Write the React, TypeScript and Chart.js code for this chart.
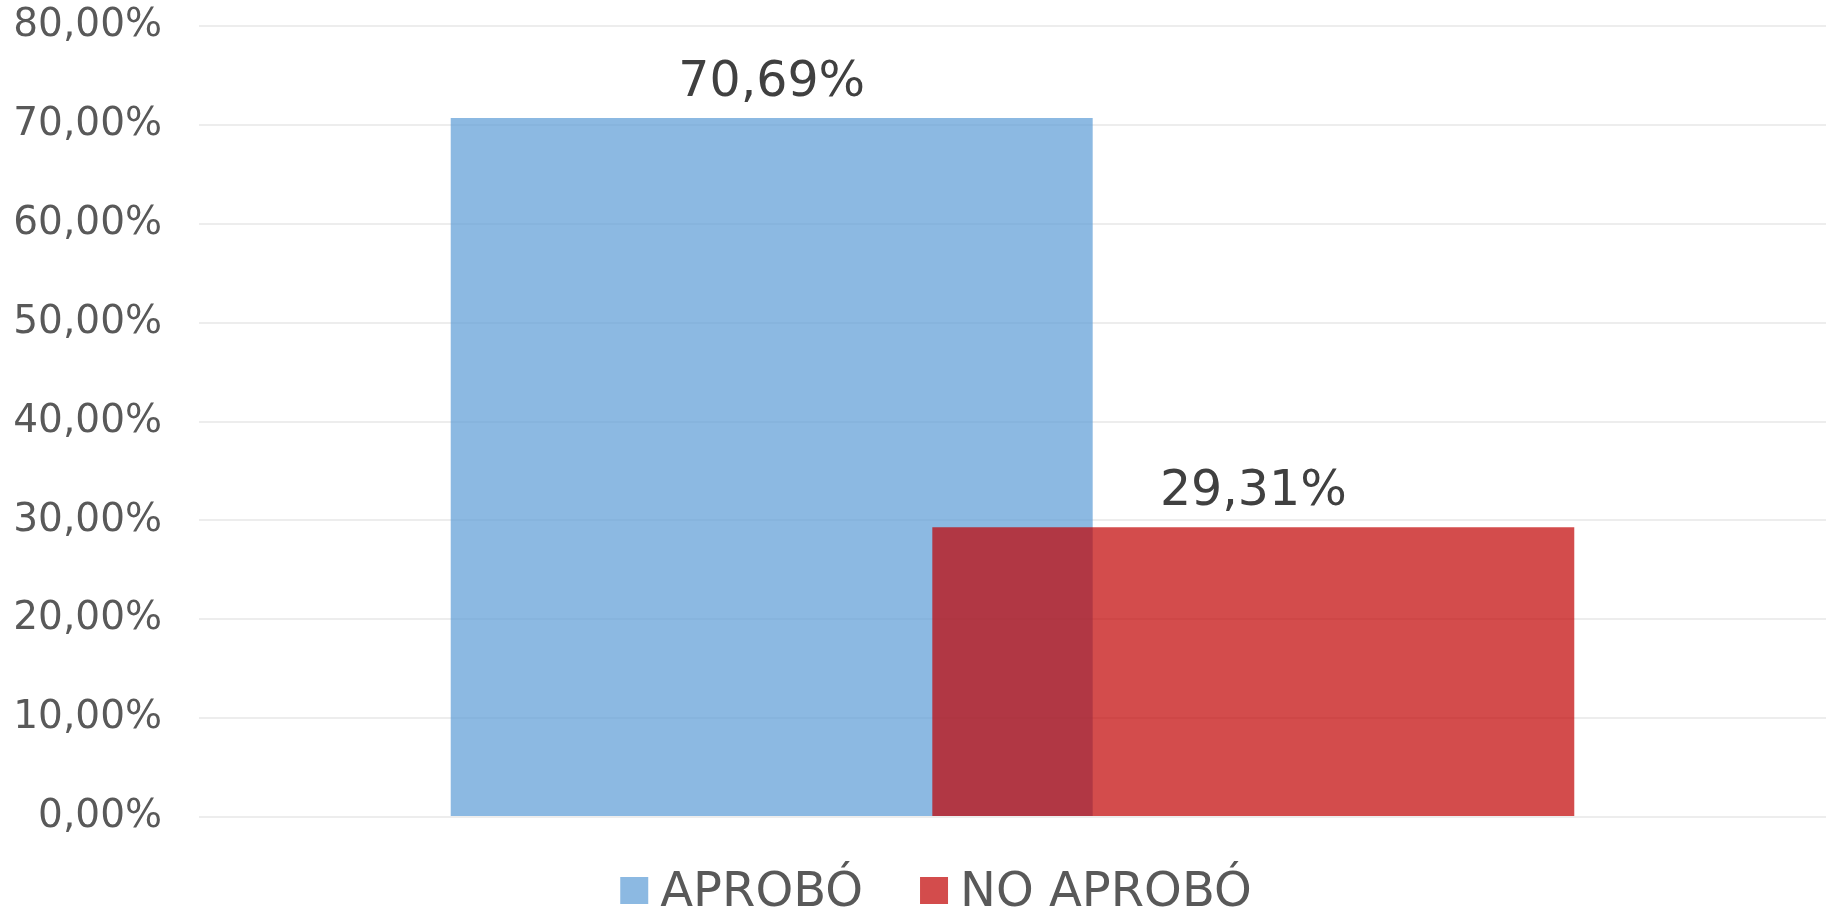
import React, { useEffect, useRef } from 'react';
import { Chart, registerables } from 'chart.js';

Chart.register(...registerables);

const categories = [''];
const seriesNames = ['APROBÓ', 'NO APROBÓ'];
const aprobo = [70.69];
const noAprobo = [29.31];
const yMin = 0;
const yMax = 80;
const yStep = 10;
const seriesColors = ['rgba(91,155,213,0.7)', 'rgba(192,0,0,0.7)'];

const FONT = '"DejaVu Sans", Verdana, sans-serif';

const fmt = (v: number) => v.toFixed(2).replace('.', ',') + '%';

// Draw the first series underneath so the second overlaps it (as in the reference).
const drawOrderPlugin = {
  id: 'drawOrder',
  beforeDatasetsDraw(chart: any) {
    const meta = chart.getDatasetMeta(0);
    if (meta && meta.controller) meta.controller.draw();
  },
  beforeDatasetDraw(_chart: any, args: any) {
    if (args.index === 0) return false;
    return true;
  },
};

const dataLabelPlugin = {
  id: 'dataLabels',
  afterDatasetsDraw(chart: any) {
    const ctx = chart.ctx;
    ctx.save();
    ctx.font = `49px ${FONT}`;
    ctx.fillStyle = '#404040';
    ctx.textAlign = 'center';
    ctx.textBaseline = 'alphabetic';
    chart.data.datasets.forEach((ds: any, i: number) => {
      const meta = chart.getDatasetMeta(i);
      meta.data.forEach((el: any, j: number) => {
        ctx.fillText(fmt(ds.data[j]), el.x, el.y - 22);
      });
    });
    ctx.restore();
  },
};

const legendPlugin = {
  id: 'customLegend',
  afterDraw(chart: any) {
    const ctx = chart.ctx;
    ctx.save();
    ctx.font = `48px ${FONT}`;
    const boxW = 28;
    const boxH = 27;
    const gap = 12;
    const itemGap = 57;
    const items = chart.data.datasets.map((ds: any) => ({
      text: ds.label,
      color: ds.backgroundColor,
      w: ctx.measureText(ds.label).width,
    }));
    const total =
      items.reduce((s: number, it: any) => s + boxW + gap + it.w, 0) + itemGap * (items.length - 1);
    let x = chart.width / 2 - total / 2 + 23;
    const boxTop = 877;
    const baseline = 906;
    items.forEach((it: any) => {
      ctx.fillStyle = it.color;
      ctx.fillRect(x, boxTop, boxW, boxH);
      x += boxW + gap;
      ctx.fillStyle = '#595959';
      ctx.textAlign = 'left';
      ctx.textBaseline = 'alphabetic';
      ctx.fillText(it.text, x, baseline);
      x += it.w + itemGap;
    });
    ctx.restore();
  },
};

export default function App() {
  const canvasRef = useRef<HTMLCanvasElement | null>(null);

  useEffect(() => {
    if (!canvasRef.current) return;
    const chart = new Chart(canvasRef.current, {
      type: 'bar',
      data: {
        labels: categories,
        datasets: [
          {
            label: seriesNames[0],
            data: aprobo,
            backgroundColor: seriesColors[0],
            borderWidth: 0,
          },
          {
            label: seriesNames[1],
            data: noAprobo,
            backgroundColor: seriesColors[1],
            borderWidth: 0,
          },
        ],
      },
      options: {
        responsive: true,
        maintainAspectRatio: false,
        animation: false,
        categoryPercentage: 0.592,
        barPercentage: 1.333,
        layout: { padding: { left: 0, right: 0, top: 26, bottom: 95 } },
        plugins: {
          legend: { display: false },
          tooltip: { enabled: false },
        },
        scales: {
          x: {
            display: false,
            offset: true,
            grid: { display: false },
          },
          y: {
            min: yMin,
            max: yMax,
            afterFit: (scale: any) => {
              scale.width = 199;
            },
            ticks: {
              stepSize: yStep,
              padding: 0,
              color: '#595959',
              font: { family: FONT, size: 39 },
              callback: (v: any) => fmt(Number(v)),
            },
            grid: {
              color: '#EDEDED',
              lineWidth: 2,
              drawTicks: true,
              tickLength: 37,
              tickColor: 'rgba(0,0,0,0)',
            },
            border: { display: false },
          },
        },
      } as any,
      plugins: [drawOrderPlugin, dataLabelPlugin, legendPlugin],
    });
    return () => chart.destroy();
  }, []);

  return (
    <div style={{ position: 'fixed', left: 0, top: 0, width: '1826px', height: '912px', background: '#fff' }}>
      <canvas ref={canvasRef} />
    </div>
  );
}
